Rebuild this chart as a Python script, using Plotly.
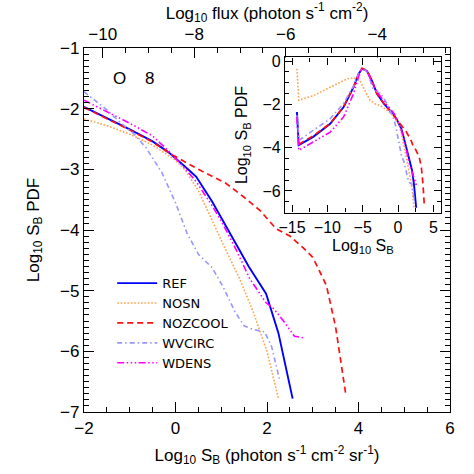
import numpy as np
import plotly.graph_objects as go

# main panel: Log10 SB vs Log10 PDF (x >= -2)
ref_x = [-2.0, -1.5, -1.0, -0.5, -0.15, 0.2, 0.45, 0.8, 1.2, 1.6, 1.98, 2.25, 2.56]
ref_y = [-1.97, -2.15, -2.34, -2.54, -2.72, -2.95, -3.12, -3.53, -4.06, -4.60, -5.05, -5.70, -6.78]

nosn_x = [-2.0, -1.5, -1.0, -0.5, 0.0, 0.2, 0.5, 0.8, 1.1, 1.4, 1.7, 2.0, 2.25]
nosn_y = [-2.17, -2.28, -2.42, -2.60, -2.85, -3.00, -3.35, -3.85, -4.33, -4.80, -5.35, -6.00, -6.78]

nozcool_x = [-2.0, -1.5, -1.0, -0.5, -0.12, 0.5, 1.1, 1.5, 1.85, 2.2, 2.5, 2.8, 3.0, 3.15, 3.3, 3.5, 3.72]
nozcool_y = [-1.98, -2.16, -2.35, -2.55, -2.74, -3.00, -3.23, -3.46, -3.68, -3.98, -4.10, -4.30, -4.45, -4.68, -4.92, -5.60, -6.70]

wvcirc_x = [-2.0, -1.5, -1.22, -0.9, -0.64, -0.3, 0.0, 0.25, 0.5, 0.8, 1.05, 1.3, 1.5, 1.7, 1.95, 2.1, 2.27]
wvcirc_y = [-1.72, -2.02, -2.22, -2.42, -2.65, -3.05, -3.55, -4.05, -4.40, -4.62, -4.95, -5.35, -5.58, -5.64, -5.68, -5.92, -6.45]

wdens_x = [-2.0, -1.5, -1.0, -0.5, -0.15, 0.2, 0.45, 0.8, 1.0, 1.33, 1.62, 1.98, 2.15, 2.34, 2.5, 2.6, 2.82]
wdens_y = [-1.86, -2.05, -2.24, -2.45, -2.70, -2.98, -3.20, -3.60, -3.85, -4.33, -4.80, -5.20, -5.30, -5.48, -5.65, -5.75, -5.78]

# inset: low surface brightness part (x < -2)
ref_lo_x = [-14.3, -14.05, -12.0, -9.6, -7.7, -6.3, -5.6, -5.1, -4.4, -3.7, -3.0, -2.5]
ref_lo_y = [-2.35, -3.88, -3.50, -2.90, -2.12, -1.20, -0.60, -0.35, -0.45, -0.90, -1.50, -1.75]

nosn_lo_x = [-14.3, -14.05, -12.0, -9.6, -7.2, -6.3, -5.4, -4.7, -4.0, -3.2, -2.5]
nosn_lo_y = [-0.35, -1.81, -1.60, -1.20, -0.82, -0.77, -0.90, -1.35, -1.80, -1.98, -2.06]

nozcool_lo_x = [-14.05, -12.0, -9.6, -7.7, -6.3, -5.6, -5.1, -4.4, -3.7, -3.0, -2.5]
nozcool_lo_y = [-3.85, -3.45, -2.88, -2.10, -1.20, -0.60, -0.33, -0.43, -0.90, -1.50, -1.75]

wvcirc_lo_x = [-14.3, -14.0, -12.0, -9.6, -7.7, -6.3, -5.6, -5.1, -4.4, -3.5, -2.5]
wvcirc_lo_y = [-2.50, -3.66, -3.20, -2.66, -1.95, -1.15, -0.60, -0.35, -0.45, -1.30, -1.50]

wdens_lo_x = [-14.3, -14.05, -12.0, -9.6, -7.7, -6.3, -5.4, -5.1, -4.4, -3.6, -3.0, -2.5]
wdens_lo_y = [-2.58, -4.12, -3.74, -3.28, -2.58, -1.50, -0.51, -0.35, -0.45, -1.05, -1.40, -1.65]

flux_offset = -8.41   # Log10 flux = Log10 SB + offset (pixel solid angle)

FONT = "Liberation Sans"

series = [
    ("REF", ref_x, ref_y, ref_lo_x, ref_lo_y, "#0000ff", "solid", 1.9),
    ("NOSN", nosn_x, nosn_y, nosn_lo_x, nosn_lo_y, "#ffa54f", "1.7px,1.7px", 1.6),
    ("NOZCOOL", nozcool_x, nozcool_y, nozcool_lo_x, nozcool_lo_y, "#ff1010", "6px,4px", 1.7),
    ("WVCIRC", wvcirc_x, wvcirc_y, wvcirc_lo_x, wvcirc_lo_y, "#9696ff", "5px,3px,1.5px,3px", 1.6),
    ("WDENS", wdens_x, wdens_y, wdens_lo_x, wdens_lo_y, "#ff00ff",
     "7px,2.5px,1.5px,2.5px,1.5px,2.5px,1.5px,2.5px", 1.6),
]

fig = go.Figure()

for name, x, y, xlo, ylo, col, dash, w in series:
    fig.add_trace(go.Scatter(x=x, y=y, mode="lines", name=name,
                             line=dict(color=col, dash=dash, width=w)))

for name, x, y, xlo, ylo, col, dash, w in series:
    fig.add_trace(go.Scatter(x=xlo + x, y=ylo + y, mode="lines", showlegend=False,
                             line=dict(color=col, dash=dash, width=w),
                             xaxis="x3", yaxis="y3"))

# dummy trace so the top flux axis is drawn
fig.add_trace(go.Scatter(x=[-10], y=[-1], mode="markers", marker=dict(opacity=0),
                         showlegend=False, hoverinfo="skip", xaxis="x2"))

fig.add_annotation(x=-1.22, y=-1.5, text="O", showarrow=False,
                   font=dict(size=17, family=FONT, color="black"))
fig.add_annotation(x=-0.57, y=-1.5, text="8", showarrow=False,
                   font=dict(size=17, family=FONT, color="black"))

tickfont = dict(size=17, family=FONT, color="black")
axis_common = dict(showgrid=False, zeroline=False, showline=True, linecolor="black",
                   linewidth=1.2, ticks="inside", tickcolor="black", tickfont=tickfont,
                   automargin=False)
inset_font = dict(size=16, family=FONT, color="black")

fig.update_layout(
    width=474, height=474,
    margin=dict(l=84, r=24, t=48, b=62),
    paper_bgcolor="white", plot_bgcolor="white",
    font=dict(family=FONT, color="black"),
    xaxis=dict(range=[-2, 6], tick0=0, dtick=2, ticklen=10,
               minor=dict(dtick=0.5, ticklen=5, ticks="inside", tickcolor="black"),
               title=dict(text="Log<sub>10</sub> S<sub>B</sub> (photon s<sup>-1</sup> cm<sup>-2</sup> sr<sup>-1</sup>)",
                          font=dict(size=17), standoff=12),
               **axis_common),
    xaxis2=dict(range=[-2 + flux_offset, 6 + flux_offset], overlaying="x", side="top",
                anchor="y", tick0=0, dtick=2, ticklen=10,
                minor=dict(dtick=0.5, ticklen=5, ticks="inside", tickcolor="black"),
                title=dict(text="Log<sub>10</sub> flux (photon s<sup>-1</sup> cm<sup>-2</sup>)",
                           font=dict(size=17), standoff=0),
                **axis_common),
    yaxis=dict(range=[-7, -1], tick0=0, dtick=1, ticklen=10, mirror="ticks",
               minor=dict(dtick=0.1, ticklen=5, ticks="inside", tickcolor="black"),
               title=dict(text="Log<sub>10</sub> S<sub>B</sub> PDF", font=dict(size=17), standoff=16),
               **axis_common),
    xaxis3=dict(domain=[0.549, 0.975], anchor="y3", range=[-16, 6.05], tick0=0, dtick=5,
                ticklen=7, mirror="ticks",
                minor=dict(dtick=2.5, ticklen=4, ticks="inside", tickcolor="black"),
                title=dict(text="Log<sub>10</sub> S<sub>B</sub>", font=dict(size=16), standoff=4),
                **{**axis_common, "tickfont": inset_font}),
    yaxis3=dict(domain=[0.548, 0.974], anchor="x3", range=[-7, 0.17], tick0=0, dtick=2,
                ticklen=7, mirror="ticks",
                minor=dict(dtick=0.5, ticklen=4, ticks="inside", tickcolor="black"),
                title=dict(text="Log<sub>10</sub> S<sub>B</sub> PDF", font=dict(size=16), standoff=10),
                **{**axis_common, "tickfont": inset_font}),
    legend=dict(x=0.077, y=0.395, xanchor="left", yanchor="top", bgcolor="rgba(0,0,0,0)",
                font=dict(size=13, family="DejaVu Sans", color="black"), tracegroupgap=0,
                itemwidth=40),
    showlegend=True,
)

# the page body has a default 8px margin; remove it so the figure sits at the origin
fig.write_html("out.html", config={"displayModeBar": False},
               post_script="document.body.style.margin='0';")
